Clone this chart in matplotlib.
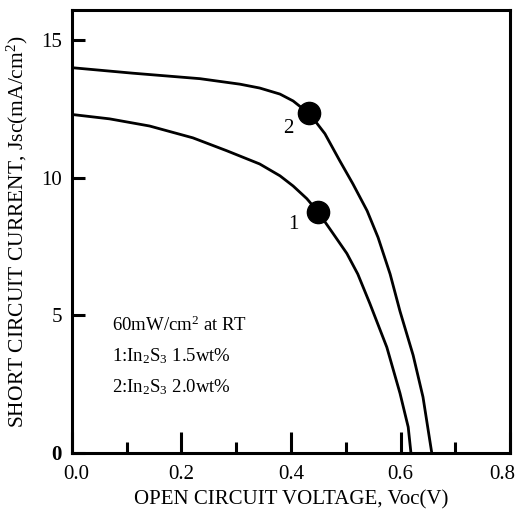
import matplotlib
matplotlib.use("Agg")
import matplotlib.pyplot as plt
from matplotlib.transforms import ScaledTranslation

plt.rcParams["font.family"] = ["Liberation Serif", "DejaVu Serif"]
plt.rcParams["mathtext.fontset"] = "custom"
plt.rcParams["mathtext.rm"] = "Liberation Serif"
plt.rcParams["mathtext.it"] = "Liberation Serif"

# J-V data
v_cell2 = [0.00, 0.111, 0.234, 0.307, 0.343, 0.380, 0.404, 0.416, 0.433,
           0.462, 0.489, 0.513, 0.539, 0.559, 0.581, 0.599, 0.623, 0.641,
           0.657]
j_cell2 = [14.0, 13.8, 13.6, 13.4, 13.26, 13.04, 12.79, 12.6, 12.35,
           11.6, 10.62, 9.78, 8.8, 7.83, 6.5, 5.15, 3.55, 2.03, 0.0]

v_cell1 = [0.00, 0.069, 0.142, 0.221, 0.283, 0.343, 0.380, 0.404, 0.429,
           0.449, 0.477, 0.502, 0.522, 0.544, 0.575, 0.599, 0.614, 0.619]
j_cell1 = [12.3, 12.14, 11.88, 11.45, 10.98, 10.5, 10.07, 9.7, 9.24,
           8.77, 7.97, 7.25, 6.5, 5.43, 3.84, 2.17, 0.94, 0.0]

# maximum power points
mpp_v = [0.449, 0.433]
mpp_j = [8.77, 12.35]
mpp_labels = ["1", "2"]

notes = ["60mW/cm$^2$ at RT",
         "1:In$_2$S$_3$ 1.5wt%",
         "2:In$_2$S$_3$ 2.0wt%"]

x_major = [0.0, 0.2, 0.4, 0.6, 0.8]
x_minor = [0.1, 0.3, 0.5, 0.7]
x_labels = ["0.0", "0.2", "0.4", "0.6", "0.8"]
y_ticks = [0, 5, 10, 15]
y_labels = ["0", "5", "10", "15"]

fig = plt.figure(figsize=(5.2, 5.2), dpi=100)
ax = fig.add_axes([0.138, 0.129, 0.843, 0.852])

ax.plot(v_cell1, j_cell1, color="black", lw=2.0)
ax.plot(v_cell2, j_cell2, color="black", lw=2.0)
ax.plot(mpp_v, mpp_j, "o", color="black", ms=16)

ax.text(0.405, 8.3, mpp_labels[0], fontsize=15, ha="center", va="center")
ax.text(0.395, 11.78, mpp_labels[1], fontsize=15, ha="center", va="center")

for i, s in enumerate(notes):
    ax.text(0.073, 4.64 - 1.13 * i, s, fontsize=13.5, ha="left", va="center")

ax.set_xlim(0, 0.8)
ax.set_ylim(0, 16.1)
ax.set_xticks(x_major)
ax.set_xticks(x_minor, minor=True)
ax.set_xticklabels(x_labels)
ax.set_yticks(y_ticks)
ax.set_yticklabels(y_labels)
ax.get_yticklabels()[0].set_fontweight("bold")

ax.tick_params(axis="x", which="major", direction="in", length=15, width=2.2,
               labelsize=15, pad=9)
ax.tick_params(axis="x", which="minor", direction="in", length=8, width=2.2)
ax.tick_params(axis="y", which="major", direction="in", length=9, width=2.2,
               labelsize=15, pad=7)

# nudge the end labels so they stay inside the figure
xt = ax.get_xticklabels()
xt[0].set_transform(xt[0].get_transform() + ScaledTranslation(3 / 72, 0, fig.dpi_scale_trans))
xt[-1].set_transform(xt[-1].get_transform() + ScaledTranslation(-6 / 72, 0, fig.dpi_scale_trans))

for sp in ax.spines.values():
    sp.set_linewidth(2.2)

ax.set_xlabel("OPEN CIRCUIT VOLTAGE, Voc(V)", fontsize=15, labelpad=4)
ax.set_ylabel("SHORT CIRCUIT CURRENT, Jsc(mA/cm$^2$)", fontsize=15.5,
              labelpad=8)

fig.savefig("out.png", dpi=100)
